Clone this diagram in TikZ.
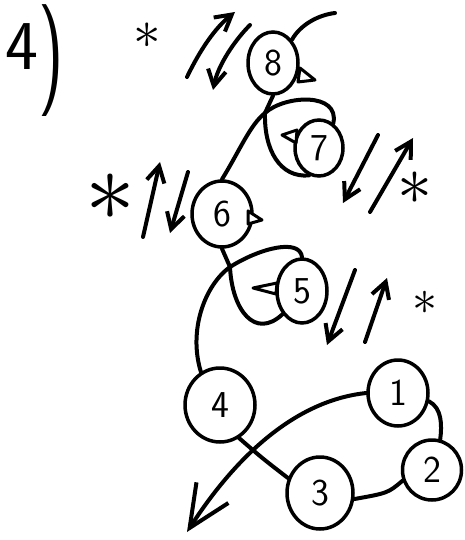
\documentclass[tikz,border=0pt]{standalone}
\usepackage{graphicx}
\usepackage{tikz}
\usetikzlibrary{shapes.geometric,arrows.meta}

\tikzset{
  vertex/.style={draw, ellipse, line width=3.5pt, inner sep=0pt,
    font=\sffamily\fontsize{38}{38}\selectfont},
  pen/.style={line width=4pt, line cap=round, line join=round},
  flip/.style={pen, -{Straight Barb[length=16pt,width=18pt]}},
  tick/.style={line width=3pt, line join=round, fill=white},
  asterisk/.style={inner sep=0pt}
}

\begin{document}
\begin{tikzpicture}[x=1pt,y=-1pt]
    \useasboundingbox (0,0) rectangle (464,540);
    % Number of the sketch
    \node[anchor=base west, inner sep=0pt, font=\sffamily\fontsize{70}{70}\selectfont] (num) at (5,70)
        {4\hspace{0pt}\raisebox{-19pt}{\scalebox{1}[1.6]{)}}};
    % Define points
    \node[vertex, minimum width=50, minimum height=62] (n8) at (273,63) {8};
    \node[vertex, minimum width=48, minimum height=56] (n7) at (319,148) {7};
    \node[vertex, minimum width=60, minimum height=66] (n6) at (222,214) {6};
    \node[vertex, minimum width=50, minimum height=64] (n5) at (302,291) {5};
    \node[vertex, minimum width=70, minimum height=74] (n4) at (220,405) {4};
    \node[vertex, minimum width=66, minimum height=72] (n3) at (320,493) {3};
    \node[vertex, minimum width=59, minimum height=60] (n2) at (432,470) {2};
    \node[vertex, minimum width=60, minimum height=66] (n1) at (398,393) {1};
    \coordinate (j8) at (265,113);
    \coordinate (j6) at (230,267);
    \coordinate (tail) at (335,13);
    % Upper part of the chain
    \draw[pen] (n8.north east) .. controls (300,25) and (318,15) .. (tail);
    \draw[pen] (n8.south) -- (j8) .. controls (264,150) and (280,178) .. (n7.250);
    \draw[pen] (n6.north) .. controls (240,150) and (250,125) .. (j8)
                          .. controls (285,95) and (340,92) .. (n7.60);
    \draw[pen] (n6.south) -- (j6) .. controls (232,310) and (255,340) .. (n5.230);
    \draw[pen] (n4.120) .. controls (188,330) and (205,285) .. (j6)
                        .. controls (260,248) and (300,238) .. (n5.north);
    % Lower part
    \draw[pen] (n1.345) .. controls (442,408) and (442,425) .. (n2.75);
    \draw[pen] (n2.200) .. controls (388,493) .. (n3.350);
    \draw[pen] (n4.300) .. controls (262,458) .. (n3.155);
    \draw[pen, -{Straight Barb[length=42pt,width=38pt]}] (n1.west)
        .. controls (300,400) and (240,450) .. (187,532);
    % Small marks
    \draw[tick] (300,68) -- (315,80) -- (298,82) -- cycle;
    \draw[tick] (282,135) -- (297,130) -- (296,143) -- cycle;
    \draw[tick] (248,211) -- (262,220) -- (248,224) -- cycle;
    \draw[tick] (253,288) -- (277,283) -- (276,294) -- cycle;
    % Rotation arrows
    \draw[flip] (187,77) .. controls (200,50) and (215,28) .. (235,12);
    \draw[flip] (250,25) .. controls (235,40) and (218,65) .. (213,90);
    \draw[flip] (143,237) -- (160,162);
    \draw[flip] (188,172) -- (170,233);
    \draw[flip] (378,135) -- (343,203);
    \draw[flip] (370,212) -- (413,138);
    \draw[flip] (355,270) -- (327,345);
    \draw[flip] (365,342) -- (387,278);
    % Stars
    \node[asterisk] (s1) at (147,36) {\scalebox{5.5}{$\ast$}};
    \node[asterisk] (s2) at (110,197) {\scalebox{10}{$\ast$}};
    \node[asterisk] (s3) at (415,188) {\scalebox{7}{$\ast$}};
    \node[asterisk] (s4) at (425,303) {\scalebox{5}{$\ast$}};
\end{tikzpicture}
\end{document}
